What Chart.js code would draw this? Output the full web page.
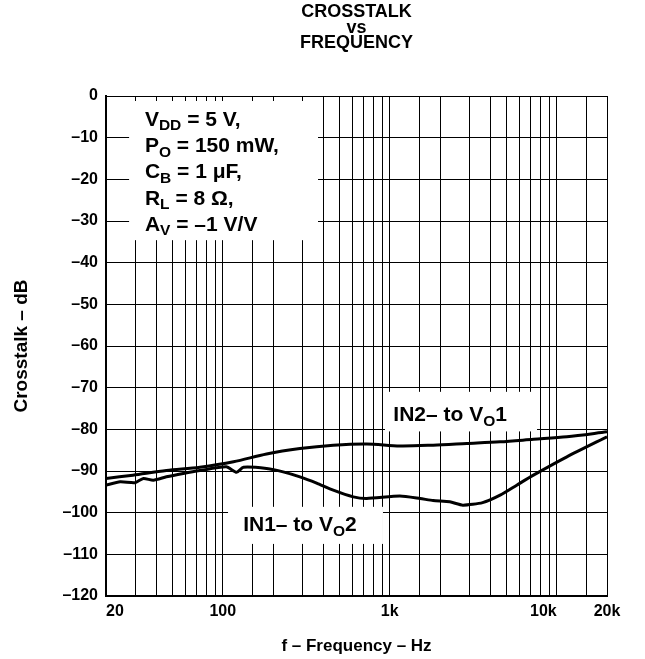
<!DOCTYPE html>
<html>
<head>
<meta charset="utf-8">
<script src="https://cdn.jsdelivr.net/npm/chart.js@4/dist/chart.umd.min.js"></script>
<style>
  html, body { margin: 0; padding: 0; background: #fff; }
  #wrap { width: 645px; height: 659px; }
</style>
</head>
<body>
<div id="wrap"><canvas id="c" width="645" height="659"></canvas></div>
<script>
// ---- Data ----
const freqIN2toVO1 = [20, 29, 46, 73, 116, 183, 290, 459, 728, 1150, 1820, 2890, 4580, 7250, 11500, 20000];
const dbIN2toVO1   = [-91.8, -91.0, -89.9, -89.1, -87.8, -85.9, -84.6, -83.8, -83.5, -84.0, -83.8, -83.4, -83.0, -82.4, -81.8, -80.6];

const freqIN1toVO2 = [20, 24.3, 29.8, 33.5, 38.4, 46, 58, 73, 105, 121, 133, 183, 230, 290, 365, 459, 605, 728, 1150, 1520, 1820, 2290, 2740, 3600, 4580, 5760, 7250, 11500, 20000];
const dbIN1toVO2   = [-93.4, -92.6, -92.8, -91.8, -92.2, -91.4, -90.6, -89.9, -89.0, -90.3, -89.1, -89.4, -90.2, -91.4, -92.9, -94.6, -96.2, -96.6, -96.0, -96.6, -97.1, -97.4, -98.2, -97.6, -95.8, -93.4, -91.0, -86.6, -81.8];

const xTickValues = [20, 100, 1000, 10000, 20000];
const xTickLabels = ['20', '100', '1k', '10k', '20k'];
const yMin = -120, yMax = 0, yStep = 10;

const titleLines = ['CROSSTALK', 'vs', 'FREQUENCY'];
const xAxisTitle = 'f \u2013 Frequency \u2013 Hz';
const yAxisTitle = 'Crosstalk \u2013 dB';

// rich text: [text, isSubscript]
const conditionLines = [
  [['V', 0], ['DD', 1], [' = 5 V,', 0]],
  [['P', 0], ['O', 1], [' = 150 mW,', 0]],
  [['C', 0], ['B', 1], [' = 1 \u03BCF,', 0]],
  [['R', 0], ['L', 1], [' = 8 \u03A9,', 0]],
  [['A', 0], ['V', 1], [' = \u20131 V/V', 0]]
];
const labelIN2 = [['IN2\u2013 to V', 0], ['O', 1], ['1', 0]];
const labelIN1 = [['IN1\u2013 to V', 0], ['O', 1], ['2', 0]];

// ---- Styling / placement (data units) ----
const FONT = '"Liberation Sans", Arial, Helvetica, sans-serif';
const annot = {
  boxes: [
    { f0: 27.5, f1: 372, d0: -1.2, d1: -34.6 },
    { f0: 937, f1: 7620, d0: -71.0, d1: -80.5 },
    { f0: 107.6, f1: 911, d0: -98.6, d1: -107.5 }
  ],
  cond: { f: 34.2, db: -5.3, step: 26.3 },
  in2: { f: 2300, db: -76.3 },
  in1: { f: 290, db: -102.7 },
  textSize: 21, subSize: 15.5,
  xLabelAlign: ['left', 'center', 'center', 'right', 'center'],
  xLabelY: 612
};

function drawRich(ctx, parts, x, yCenter, align, size, subSize) {
  const mainF = 'bold ' + size + 'px ' + FONT;
  const subF = 'bold ' + subSize + 'px ' + FONT;
  let w = 0;
  parts.forEach(p => { ctx.font = p[1] ? subF : mainF; w += ctx.measureText(p[0]).width; });
  let cx = align === 'center' ? x - w / 2 : x;
  const base = yCenter + size * 0.36;
  ctx.textBaseline = 'alphabetic';
  ctx.textAlign = 'left';
  ctx.fillStyle = '#000';
  parts.forEach(p => {
    ctx.font = p[1] ? subF : mainF;
    ctx.fillText(p[0], cx, p[1] ? base + size * 0.22 : base);
    cx += ctx.measureText(p[0]).width;
  });
}

const annotPlugin = {
  id: 'annotPlugin',
  beforeDatasetsDraw(chart) {
    const ctx = chart.ctx, xs = chart.scales.x, ys = chart.scales.y;
    ctx.save();
    ctx.fillStyle = '#fff';
    annot.boxes.forEach(b => {
      const x0 = xs.getPixelForValue(b.f0), x1 = xs.getPixelForValue(b.f1);
      const y0 = ys.getPixelForValue(b.d0), y1 = ys.getPixelForValue(b.d1);
      ctx.fillRect(x0, y0, x1 - x0, y1 - y0);
    });
    const cx = xs.getPixelForValue(annot.cond.f), cy = ys.getPixelForValue(annot.cond.db);
    conditionLines.forEach((ln, i) => drawRich(ctx, ln, cx, cy + i * annot.cond.step, 'left', annot.textSize, annot.subSize));
    drawRich(ctx, labelIN2, xs.getPixelForValue(annot.in2.f), ys.getPixelForValue(annot.in2.db), 'center', annot.textSize, annot.subSize);
    drawRich(ctx, labelIN1, xs.getPixelForValue(annot.in1.f), ys.getPixelForValue(annot.in1.db), 'center', annot.textSize, annot.subSize);
    ctx.restore();
  },
  afterDraw(chart) {
    const ctx = chart.ctx, xs = chart.scales.x;
    ctx.save();
    ctx.font = 'bold 16px ' + FONT;
    ctx.fillStyle = '#000';
    ctx.textBaseline = 'middle';
    xTickValues.forEach((v, i) => {
      ctx.textAlign = annot.xLabelAlign[i];
      ctx.fillText(xTickLabels[i], xs.getPixelForValue(v), annot.xLabelY);
    });
    ctx.restore();
  }
};

const toXY = (fs, ds) => fs.map((f, i) => ({ x: f, y: ds[i] }));

new Chart(document.getElementById('c'), {
  type: 'line',
  data: {
    datasets: [
      { label: 'IN2\u2013 to VO1', data: toXY(freqIN2toVO1, dbIN2toVO1), borderColor: '#000', borderWidth: 3, pointRadius: 0, tension: 0.3, fill: false },
      { label: 'IN1\u2013 to VO2', data: toXY(freqIN1toVO2, dbIN1toVO2), borderColor: '#000', borderWidth: 3, pointRadius: 0, tension: 0.2, fill: false }
    ]
  },
  options: {
    responsive: false,
    animation: false,
    devicePixelRatio: 1,
    layout: { padding: { left: 0, right: 38, top: 0, bottom: 0 } },
    plugins: {
      legend: { display: false },
      tooltip: { enabled: false },
      title: {
        display: true,
        text: titleLines,
        fullSize: false,
        color: '#000',
        font: { family: FONT, size: 18, weight: 'bold', lineHeight: '15.5px' },
        padding: { top: 4.75, bottom: 44.75 }
      }
    },
    scales: {
      x: {
        type: 'logarithmic',
        min: 20, max: 20000,
        afterFit(s) { s.height = 63; },
        grid: { color: '#000', lineWidth: 1, drawTicks: false },
        border: { color: '#000', width: 2 },
        ticks: { display: false },
        title: { display: true, text: xAxisTitle, color: '#000', font: { family: FONT, size: 17, weight: 'bold' }, padding: { top: 0, bottom: 2 } }
      },
      y: {
        type: 'linear',
        min: yMin, max: yMax,
        afterFit(s) { s.width = 106; },
        grid: { color: '#000', lineWidth: 1, drawTicks: false },
        border: { color: '#000', width: 2 },
        ticks: {
          stepSize: yStep, color: '#000', padding: 8,
          font: { family: FONT, size: 16, weight: 'bold' },
          callback: v => (v === 0 ? '0' : '\u2013' + Math.abs(v))
        },
        title: { display: true, text: yAxisTitle, color: '#000', font: { family: FONT, size: 19, weight: 'bold' }, padding: { top: 10.5, bottom: 0 } }
      }
    }
  },
  plugins: [annotPlugin]
});
</script>
</body>
</html>
